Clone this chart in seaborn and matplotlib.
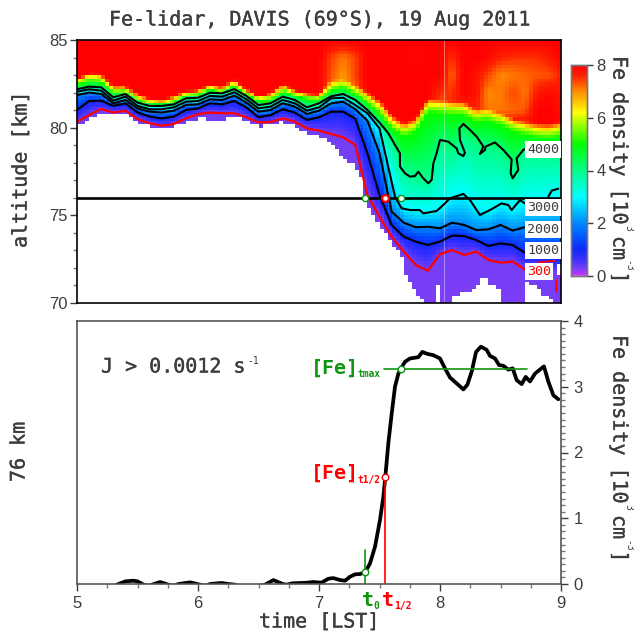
import numpy as np
import pandas as pd
import matplotlib
matplotlib.use("Agg")
import matplotlib.pyplot as plt
import matplotlib.patheffects as pe
from matplotlib.colors import LinearSegmentedColormap
from matplotlib.ticker import MultipleLocator
import seaborn as sns

# ---------- data ----------
knot_t = [5.0, 5.1, 5.2, 5.3, 5.4, 5.5, 5.6, 5.7, 5.8, 5.9, 6.0, 6.1, 6.2, 6.3, 6.4, 6.5, 6.6, 6.7, 6.8, 6.9, 7.0,
          7.1, 7.2, 7.3, 7.4, 7.5, 7.6, 7.7, 7.8, 7.9, 8.0, 8.1, 8.2, 8.3, 8.4, 8.5, 8.6, 8.7, 8.8, 8.9, 9.0]
z_300 = [80.34, 80.72, 81.07, 80.86, 80.97, 80.49, 80.25, 80.11, 80.21, 80.53, 80.78, 80.86, 80.82, 80.82, 80.59, 80.30, 80.32, 80.53, 80.34, 79.96, 79.83,
         79.64, 79.45, 79.01, 76.16, 74.92, 73.78, 72.93, 72.17, 71.84, 72.79, 73.02, 72.74, 72.93, 72.45, 72.30, 72.36, 71.92, 71.88, 71.79, 71.79]
z_1000 = [81.01, 81.52, 81.54, 81.24, 81.39, 80.87, 80.63, 80.53, 80.63, 81.01, 81.10, 81.39, 81.33, 81.52, 81.16, 80.59, 80.72, 81.05, 80.86, 80.44, 80.59,
          80.91, 80.91, 80.51, 78.54, 76.16, 74.45, 73.78, 73.50, 73.31, 73.50, 73.84, 73.82, 73.59, 73.25, 73.40, 73.31, 72.87, 72.74, 72.64, 72.64]
z_2000 = [81.86, 82.00, 81.92, 81.39, 81.58, 81.10, 80.91, 80.86, 80.97, 81.29, 81.33, 81.62, 81.58, 81.83, 81.43, 80.91, 81.01, 81.39, 81.20, 80.78, 80.97,
          81.39, 81.48, 81.05, 80.40, 78.54, 75.21, 74.58, 74.32, 74.35, 74.26, 74.58, 74.45, 74.16, 74.20, 74.45, 74.13, 74.32, 74.26, 74.26, 74.26]
z_3000 = [82.05, 82.19, 82.11, 81.54, 81.77, 81.24, 81.05, 81.05, 81.16, 81.48, 81.52, 81.81, 81.77, 82.02, 81.62, 81.10, 81.20, 81.58, 81.39, 80.97, 81.16,
          81.67, 81.71, 81.29, 80.82, 79.96, 77.21, 75.40, 75.30, 75.21, 75.40, 76.06, 76.22, 75.59, 75.21, 75.65, 75.40, 75.68, 75.78, 75.97, 76.16]
z_4000 = [82.19, 82.34, 82.30, 81.73, 81.92, 81.43, 81.24, 81.24, 81.33, 81.67, 81.71, 81.99, 81.96, 82.20, 81.81, 81.29, 81.39, 81.77, 81.58, 81.16, 81.39,
          81.79, 81.92, 81.58, 81.01, 80.29, 79.30, 77.60, 77.30, 77.00, 79.00, 78.60, 79.50, 78.90, 78.90, 78.50, 77.50, 78.70, 78.60, 78.60, 78.40]
z_5000 = [82.43, 82.62, 82.57, 81.96, 82.05, 81.54, 81.35, 81.29, 81.43, 81.77, 81.81, 82.15, 81.96, 82.34, 81.92, 81.48, 81.54, 82.05, 81.77, 81.62, 81.54,
          82.10, 82.25, 81.85, 81.35, 80.75, 79.90, 79.45, 79.75, 80.85, 80.80, 80.70, 80.70, 80.30, 80.40, 80.10, 79.75, 79.55, 79.40, 79.35, 79.50]
z_6000 = [82.62, 82.91, 82.81, 82.15, 82.19, 81.67, 81.48, 81.39, 81.58, 81.92, 82.00, 82.30, 82.11, 82.53, 82.05, 81.67, 81.77, 82.24, 81.92, 81.81, 81.73,
          82.40, 82.59, 82.19, 81.71, 81.16, 80.30, 79.89, 80.15, 81.29, 81.24, 81.16, 81.10, 80.72, 80.82, 80.55, 80.17, 80.00, 79.83, 79.79, 79.96]
z_8000 = [82.81, 83.14, 83.10, 82.43, 82.43, 81.96, 81.67, 81.62, 81.86, 82.11, 82.15, 82.53, 82.34, 82.81, 82.24, 81.77, 82.05, 82.59, 82.15, 81.96, 81.92,
          82.90, 83.00, 82.60, 82.10, 81.60, 80.75, 80.30, 80.60, 81.75, 81.70, 81.60, 81.55, 81.15, 81.30, 81.00, 80.60, 80.45, 80.30, 80.25, 80.40]

# red-zone ceiling (10^3 cm^-3): orange patches at the top of the layer
cap_t = [7.0, 7.1, 7.2, 7.3, 7.4, 7.5, 7.6, 7.7, 7.8, 7.9, 8.0, 8.1, 8.2, 8.3, 8.4, 8.5, 8.6, 8.7, 8.8, 8.9, 9.0]
cap_z = [85, 84, 83, 82, 81, 80]
cap_85 = [8] * 21
cap_84 = [8, 7.4, 7.1, 7.4, 8, 8, 8, 8, 7.9, 8, 8, 7.5, 8, 8, 7.9, 7.6, 7.5, 7.5, 7.5, 7.7, 8]
cap_83 = [8, 7.3, 6.9, 7.4, 8, 8, 8, 8, 8, 8, 8, 7.2, 8, 7.8, 7.4, 7.0, 7.1, 7.2, 7.3, 7.3, 7.6]
cap_82 = [8, 7.2, 6.8, 7.2, 8, 8, 8, 8, 8, 8, 7.5, 7.5, 8, 7.8, 7.0, 7.1, 7.4, 7.1, 7.7, 7.9, 7.7]
cap_81 = [8, 8, 8, 8, 8, 8, 8, 8, 8, 8, 7.3, 7.5, 7.5, 7.6, 7.1, 7.1, 7.2, 7.3, 8, 8, 7.8]
cap_80 = [8] * 21

# lowest altitude with signal: a sloping edge, then a stepped one
edge_t = [5.0, 5.1, 5.2, 5.3, 5.4, 5.5, 5.6, 5.7, 5.8, 5.9, 6.0, 6.1, 6.2, 6.3, 6.4, 6.5, 6.6, 6.7, 6.8, 6.9, 7.0,
          7.1, 7.2, 7.3, 7.35, 7.38, 7.45, 7.53, 7.60, 7.68, 7.72, 7.79, 7.86]
edge_z = [80.06, 80.44, 80.86, 80.72, 80.82, 80.34, 80.06, 79.90, 80.06, 80.34, 80.53, 80.48, 80.44, 80.67, 80.44, 80.06, 80.15, 80.34, 80.06, 79.68, 79.49,
          79.20, 78.25, 77.87, 77.20, 75.97, 74.92, 74.16, 73.40, 72.64, 71.50, 70.74, 70.0]
step_t = [7.86, 7.958, 7.992, 8.11, 8.165, 8.25, 8.30, 8.33, 8.36, 8.40, 8.47, 8.51, 8.66, 8.70, 8.74, 8.785, 8.84, 8.895, 8.935]
step_z = [70.0, 70.93, 70.0, 70.45, 70.55, 70.74, 71.02, 71.31, 71.50, 71.02, 70.74, 70.0, 70.1, 71.3, 71.0, 70.74, 70.5, 70.3, 70.0]

# detail of the contour lines right of the drop
c3000_t = [7.628, 7.683, 7.752, 7.834, 7.862, 7.972, 8.027, 8.082, 8.193, 8.248, 8.330, 8.413, 8.509, 8.564, 8.592, 8.661, 8.702]
c3000_z = [76.06, 75.40, 75.30, 75.30, 75.11, 75.25, 75.59, 75.97, 76.22, 75.87, 75.02, 75.30, 75.68, 75.59, 75.30, 75.87, 75.68]
c3000b_t = [8.895, 8.923, 8.978]
c3000b_z = [76.06, 76.41, 76.52]
c4000_t = [7.573, 7.628, 7.669, 7.669, 7.710, 7.752, 7.793, 7.821, 7.862, 7.903, 7.931, 7.945, 7.972, 8.0, 8.069, 8.137, 8.151, 8.193, 8.206,
           8.165, 8.160, 8.193, 8.248, 8.303, 8.358, 8.330, 8.372, 8.377, 8.454, 8.523, 8.592, 8.584, 8.600, 8.647, 8.633, 8.688, 8.716]
c4000_z = [79.68, 79.01, 78.54, 77.78, 77.40, 77.21, 77.24, 77.49, 77.11, 76.83, 77.02, 77.97, 78.54, 79.30, 79.20, 78.82, 78.54, 78.38, 78.57,
           79.30, 79.96, 80.21, 79.87, 79.49, 78.92, 78.50, 78.73, 78.92, 79.16, 78.73, 78.19, 77.40, 77.11, 77.59, 78.25, 78.73, 78.82]
c300b_t = [8.812, 8.95]
c300b_z = [72.32, 72.41]
c300c_t = [8.964, 8.958, 8.964]
c300c_z = [71.31, 71.03, 70.65]

# Fe density at 76 km
fe_t = [5.0, 5.30, 5.33, 5.40, 5.465, 5.50, 5.55, 5.60, 5.62, 5.686, 5.755, 5.80, 5.838, 5.934, 6.017, 6.06, 6.10, 6.195, 6.25, 6.306, 6.35, 6.50,
        6.554, 6.623, 6.70, 6.733, 6.78, 6.843, 6.90, 6.953, 7.02, 7.077, 7.118, 7.174, 7.215, 7.256, 7.298, 7.339, 7.380, 7.421, 7.463, 7.504,
        7.532, 7.548, 7.573, 7.601, 7.628, 7.656, 7.675, 7.711, 7.752, 7.821, 7.854, 7.895, 7.945, 8.0, 8.041, 8.083, 8.138, 8.193, 8.226, 8.262,
        8.298, 8.339, 8.386, 8.413, 8.455, 8.488, 8.523, 8.565, 8.601, 8.634, 8.675, 8.708, 8.744, 8.785, 8.859, 8.895, 8.937, 8.978]
fe_v = [-0.05, -0.05, -0.01, 0.04, 0.05, 0.04, -0.01, -0.03, -0.01, 0.03, -0.01, -0.03, 0.0, 0.025, -0.01, -0.03, 0.0, 0.015, 0.0, -0.01, -0.05, -0.05,
        -0.01, 0.06, 0.0, -0.01, 0.01, 0.015, 0.02, 0.03, 0.02, 0.08, 0.09, 0.06, 0.05, 0.11, 0.147, 0.152, 0.177, 0.31, 0.568, 0.973,
        1.328, 1.632, 2.139, 2.595, 3.0, 3.2, 3.27, 3.38, 3.43, 3.45, 3.53, 3.50, 3.48, 3.43, 3.28, 3.14, 3.05, 2.96, 3.03, 3.23,
        3.53, 3.61, 3.56, 3.47, 3.43, 3.33, 3.32, 3.26, 3.28, 3.10, 3.04, 3.15, 3.08, 3.20, 3.31, 3.08, 2.87, 2.81]

t_zero, t_half, t_max = 7.38, 7.548, 7.675
fe_zero, fe_half, fe_max = 0.187, 1.632, 3.27
t_max_end = 8.716
alt_ref = 76.0

cmap_pos = [0.0, 0.02, 0.3, 0.6, 1.0, 1.5, 2.0, 3.0, 4.0, 5.0, 6.2, 7.0, 7.6, 8.0]
cmap_col = ["#ffffff", "#cc33ff", "#7040f5", "#4030ff", "#1028ff", "#0058ff", "#0088ff", "#00ffff", "#00ff88", "#00ff00", "#ffff00", "#ff8c00", "#ff2000", "#ff0000"]

# ---------- build the density field from the levels ----------
grid_t = np.arange(5 + 1 / 60, 9, 1 / 30)
grid_z = np.arange(70.1, 85, 0.2)
level_val = [0.15, 0.3, 1, 2, 3, 4, 5, 6, 8]
level_z = np.array([np.full(41, 60.0), z_300, z_1000, z_2000, z_3000, z_4000, z_5000, z_6000, z_8000], dtype=float)
levels_on_grid = np.array([np.interp(grid_t, knot_t, row) for row in level_z])
density = np.empty((grid_z.size, grid_t.size))
for j in range(grid_t.size):
    density[:, j] = np.interp(grid_z, levels_on_grid[:, j], level_val)

cap_tab = np.array([cap_85, cap_84, cap_83, cap_82, cap_81, cap_80], dtype=float)
cap_on_t = np.array([np.interp(grid_t, cap_t, row, left=8, right=8) for row in cap_tab])
for j in range(grid_t.size):
    cap = np.interp(grid_z, cap_z[::-1], cap_on_t[::-1, j], left=8, right=8)
    density[:, j] = np.minimum(density[:, j], cap)

edge = np.interp(grid_t, edge_t, edge_z)
late = grid_t >= step_t[0]
edge[late] = np.array(step_z)[np.searchsorted(step_t, grid_t[late], side="right") - 1]
for j in range(grid_t.size):
    density[grid_z < edge[j], j] = np.nan
density[np.ix_((grid_z > 71.6) & (grid_z < 72.2), (grid_t > 8.96) & (grid_t < 8.995))] = np.nan

field = pd.DataFrame(density[::-1], index=grid_z[::-1], columns=grid_t)

# ---------- figure ----------
sns.set_theme(style="ticks")
W, H = 634, 631
MONO = ["DejaVu Sans Mono", "Liberation Mono"]
SANS = ["Liberation Sans", "DejaVu Sans"]
INK = "#3d3d3d"
GREEN = "#0f960f"
RED = "#ff0000"
HEAVY = [pe.withStroke(linewidth=0.25, foreground=INK)]
plt.rcParams["font.family"] = SANS

fig = plt.figure(figsize=(W / 100, H / 100), dpi=100, facecolor="white")


def box(x0, y0, x1, y1):
    return [x0 / W, 1 - y1 / H, (x1 - x0) / W, (y1 - y0) / H]


def put(x, y, s, **kw):
    kw.setdefault("family", MONO)
    kw.setdefault("color", INK)
    kw.setdefault("fontsize", 14.4)
    kw.setdefault("ha", "center")
    kw.setdefault("va", "center")
    return fig.text(x / W, 1 - y / H, s, **kw)


def label(x, y, s, **kw):
    return put(x, y, s, path_effects=HEAVY, **kw)


def line(ax, x, y, color="black", lw=1.5, **kw):
    sns.lineplot(x=np.asarray(x, float), y=np.asarray(y, float), ax=ax, color=color, linewidth=lw,
                 sort=False, estimator=None, errorbar=None, legend=False, **kw)


def density_label(shift):
    label(619, 56 + shift, "Fe density [10", rotation=270, va="top")
    put(628, 225 + shift, "3", rotation=270, va="top", fontsize=7)
    label(619, 236 + shift, "cm", rotation=270, va="top")
    put(628, 260.5 + shift, "-3", rotation=270, va="top", fontsize=7)
    label(619, 271.5 + shift, "]", rotation=270, va="top")


ax_hm = fig.add_axes(box(77, 40, 561, 303))
cax = fig.add_axes(box(571, 65, 586.5, 276))
cmap = LinearSegmentedColormap.from_list("fe", [(p / 8, c) for p, c in zip(cmap_pos, cmap_col)], N=512)
sns.heatmap(field, ax=ax_hm, cmap=cmap, vmin=0, vmax=8, cbar_ax=cax, xticklabels=False, yticklabels=False)
ax_hm.set_xlabel("")
ax_hm.set_ylabel("")
ax_hm.tick_params(left=False, bottom=False)
cax.yaxis.set_major_locator(plt.FixedLocator([0, 2, 4, 6, 8]))
cax.tick_params(axis="y", labelsize=12, colors=INK, length=4, width=1, pad=3)
cax.tick_params(axis="y", which="minor", length=0)
for s in cax.spines.values():
    s.set_visible(True)
    s.set_color("#777777")
    s.set_linewidth(1)

ax = fig.add_axes(box(77, 40, 561, 303), facecolor="none")
ax.set_xlim(5, 9)
ax.set_ylim(70, 85)
ax.axvline(8.03, color="#ffffff", lw=0.7, alpha=0.4, zorder=1)
k = knot_t.index(8.7) + 1
line(ax, knot_t[:k], z_300[:k], RED, 1.6)
line(ax, c300b_t, c300b_z, RED, 1.3)
line(ax, c300c_t, c300c_z, RED, 1.3)
line(ax, knot_t[:k], z_1000[:k], "black", 1.5)
line(ax, knot_t[:k], z_2000[:k], "black", 1.5)
n3 = knot_t.index(7.5) + 1
line(ax, knot_t[:n3] + c3000_t, z_3000[:n3] + c3000_z, "black", 1.5)
line(ax, c3000b_t, c3000b_z, "black", 1.5)
line(ax, knot_t[:n3] + c4000_t, z_4000[:n3] + c4000_z, "black", 1.5)
line(ax, [5, 9], [alt_ref, alt_ref], "black", 1.9)
sns.scatterplot(x=[t_zero, t_max], y=[alt_ref, alt_ref], ax=ax, color="white", edgecolor=GREEN, s=20, linewidth=1, zorder=5, legend=False)
sns.scatterplot(x=[t_half], y=[alt_ref], ax=ax, color="white", edgecolor=RED, s=24, linewidth=1.6, zorder=5, legend=False)
lab = dict(family=MONO, fontsize=9.6, ha="left", va="center", zorder=6,
           bbox=dict(facecolor="white", edgecolor="none", pad=1.5))
ax.text(8.72, 78.75, "4000", color=INK, **lab)
ax.text(8.72, 75.45, "3000", color=INK, **lab)
ax.text(8.72, 74.19, "2000", color=INK, **lab)
ax.text(8.72, 72.99, "1000", color=INK, **lab)
ax.text(8.72, 71.79, "300", color=RED, **lab)
ax.xaxis.set_visible(False)
ax.yaxis.set_major_locator(MultipleLocator(5))
ax.yaxis.set_minor_locator(MultipleLocator(1))
ax.tick_params(axis="y", which="major", length=5, width=1, colors=INK, labelsize=12, pad=2)
ax.tick_params(axis="y", which="minor", length=3, width=1, color="#777777")
ax.set_ylabel("")
for s in ax.spines.values():
    s.set_color("black")
    s.set_linewidth(1.2)

bx = fig.add_axes(box(77, 321, 561, 584), facecolor="white")
line(bx, fe_t, fe_v, "black", 2.7)
line(bx, [t_half - 0.008, t_max_end], [fe_max, fe_max], GREEN, 1.2)
line(bx, [t_zero, t_zero], [0, 0.52], GREEN, 1.2)
line(bx, [t_half, t_half], [0, fe_half], RED, 1.2)
sns.scatterplot(x=[t_zero, t_max], y=[fe_zero, fe_max], ax=bx, color="white", edgecolor=GREEN, s=22, linewidth=1, zorder=5, legend=False)
sns.scatterplot(x=[t_half], y=[fe_half], ax=bx, color="white", edgecolor=RED, s=22, linewidth=1, zorder=5, legend=False)
bx.set_xlim(5, 9)
bx.set_ylim(0, 4)
bx.yaxis.tick_right()
bx.xaxis.set_major_locator(MultipleLocator(1))
bx.xaxis.set_minor_locator(MultipleLocator(0.25))
bx.yaxis.set_major_locator(MultipleLocator(1))
bx.yaxis.set_minor_locator(MultipleLocator(0.1))
bx.tick_params(axis="both", which="major", length=5, width=1, colors=INK, labelsize=12, pad=4)
bx.tick_params(axis="both", which="minor", length=3, width=1, color="#777777")
bx.set_xlabel("")
bx.set_ylabel("")
for s in bx.spines.values():
    s.set_visible(True)
    s.set_color("#555555")
    s.set_linewidth(1.2)

# ---------- text ----------
label(319, 20, "Fe-lidar, DAVIS (69°S), 19 Aug 2011")
label(21, 170, "altitude [km]", rotation=90)
label(19, 452, "76 km", rotation=90)
density_label(0)
density_label(279)
label(319, 622, "time [LST]")
label(101, 367, "J > 0.0012 s", ha="left")
put(247, 361, "-1", ha="left", fontsize=7)
put(311, 368, "[Fe]", ha="left", color=GREEN, fontweight="bold")
put(358, 374, "tmax", ha="left", color=GREEN, fontweight="bold", fontsize=6.9)
put(311, 473, "[Fe]", ha="left", color=RED, fontweight="bold")
put(358, 480, "t1/2", ha="left", color=RED, fontweight="bold", fontsize=6.9)
put(362, 601, "t", ha="left", color=GREEN, fontweight="bold")
put(373, 606, "0", ha="left", color=GREEN, fontweight="bold", fontsize=7)
put(382, 601, "t", ha="left", color=RED, fontweight="bold")
put(394, 606, "1/2", ha="left", color=RED, fontweight="bold", fontsize=7)

fig.savefig("out.png", dpi=100, facecolor="white")
